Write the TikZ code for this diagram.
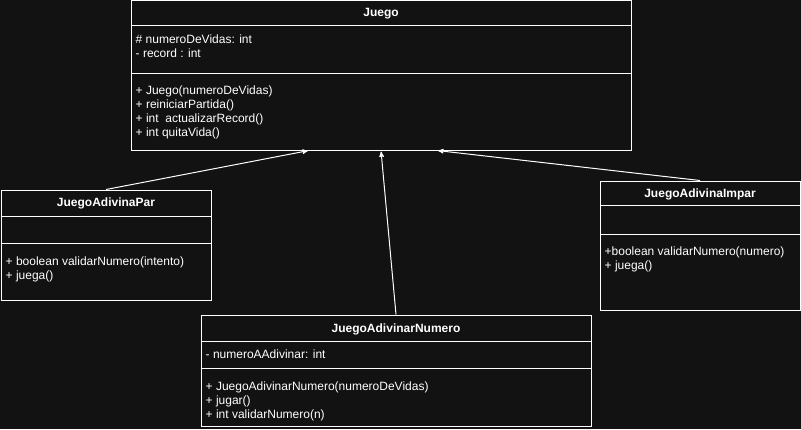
\documentclass[tikz,border=0pt]{standalone}
\usepackage{fontspec}
\setmainfont{Liberation Sans}
\usetikzlibrary{arrows,positioning}
\definecolor{bgdark}{RGB}{18,18,18}
\tikzset{>=stealth',shorten >=1pt}
\tikzset{
    classbox/.style={draw=white,line width=1pt,fill=bgdark,inner sep=0pt},
    classname/.style={text=white,font=\fontsize{12}{14}\selectfont\bfseries,anchor=base,inner sep=0pt},
    members/.style={text=white,font=\fontsize{12}{14}\selectfont,align=left,anchor=north west,inner sep=0pt},
    divider/.style={draw=white,line width=1pt},
    extends/.style={->,draw=white,line width=1pt}
}

\begin{document}
\begin{tikzpicture}[x=1pt,y=-1pt]
    \fill[bgdark] (0,0) rectangle (801,429);
    \useasboundingbox (0,0) rectangle (801,429);
        % Juego
        \node[classbox,minimum width=500pt,minimum height=150pt] (juego) at (381,75) {};
        \node[classname] (juegoname) at ([yshift=-17pt]juego.north) {Juego};
        \draw[divider] ([yshift=-26pt]juego.north west) -- ([yshift=-26pt]juego.north east);
        \draw[divider] ([yshift=-74pt]juego.north west) -- ([yshift=-74pt]juego.north east);
        \node[members] (juegoattr) at ([xshift=5pt,yshift=-35pt]juego.north west) {
                        \# numeroDeVidas: int\\
                        - record : int
                        };
        \node[members] (juegometh) at ([xshift=5pt,yshift=-86pt]juego.north west) {
                        + Juego(numeroDeVidas)\\
                        + reiniciarPartida()\\
                        + int~ actualizarRecord()\\
                        + int quitaVida()
                        };
        % JuegoAdivinaPar
        \node[classbox,minimum width=210pt,minimum height=110pt] (par) at (106,245) {};
        \node[classname] (parname) at ([yshift=-17pt]par.north) {JuegoAdivinaPar};
        \draw[divider] ([yshift=-27pt]par.north west) -- ([yshift=-27pt]par.north east);
        \draw[divider] ([yshift=-54pt]par.north west) -- ([yshift=-54pt]par.north east);
        \node[members] (parmeth) at ([xshift=5pt,yshift=-67pt]par.north west) {
                        + boolean validarNumero(intento)\\
                        + juega()
                        };
        % JuegoAdivinaImpar
        \node[classbox,minimum width=200pt,minimum height=129pt] (impar) at (700,245.5) {};
        \node[classname] (imparname) at ([yshift=-17pt]impar.north) {JuegoAdivinaImpar};
        \draw[divider] ([yshift=-25pt]impar.north west) -- ([yshift=-25pt]impar.north east);
        \draw[divider] ([yshift=-54pt]impar.north west) -- ([yshift=-54pt]impar.north east);
        \node[members] (imparmeth) at ([xshift=5pt,yshift=-66pt]impar.north west) {
                        +boolean validarNumero(numero)\\
                        + juega()
                        };
        % JuegoAdivinarNumero
        \node[classbox,minimum width=390pt,minimum height=111pt] (numero) at (396,370.5) {};
        \node[classname] (numeroname) at ([yshift=-18pt]numero.north) {JuegoAdivinarNumero};
        \draw[divider] ([yshift=-27pt]numero.north west) -- ([yshift=-27pt]numero.north east);
        \draw[divider] ([yshift=-54pt]numero.north west) -- ([yshift=-54pt]numero.north east);
        \node[members] (numeroattr) at ([xshift=5pt,yshift=-35pt]numero.north west) {
                        - numeroAAdivinar: int
                        };
        \node[members] (numerometh) at ([xshift=5pt,yshift=-67pt]numero.north west) {
                        + JuegoAdivinarNumero(numeroDeVidas)\\
                        + jugar()\\
                        + int validarNumero(n)
                        };
        % herencia
        \draw[extends] (par.north) -- ([xshift=-72pt]juego.south);
        \draw[extends] (numero.north) -- (juego.south);
        \draw[extends] (impar.north) -- ([xshift=56pt]juego.south);
\end{tikzpicture}
\end{document}
